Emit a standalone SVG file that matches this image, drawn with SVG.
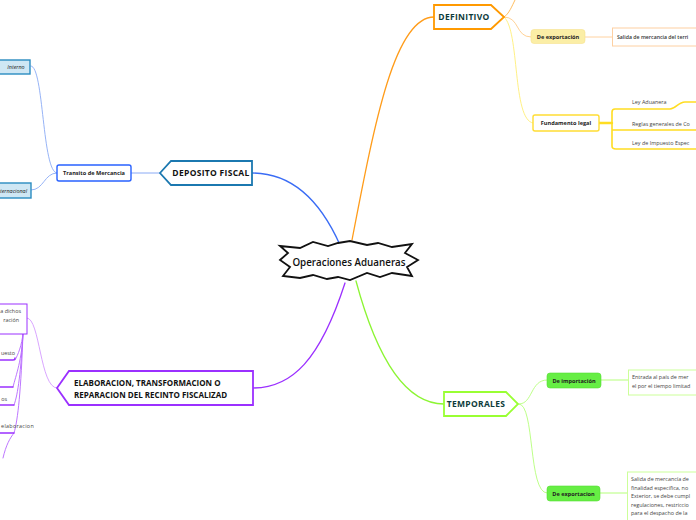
<svg xmlns="http://www.w3.org/2000/svg" width="696" height="520" viewBox="0 0 696 520">
<style>
text{font-family:"Open Sans","Noto Sans","DejaVu Sans",sans-serif;}
.main{font-size:8.5px;font-weight:700;fill:#0d3b3b;text-anchor:middle;letter-spacing:0.3px}
.sub{font-size:5.6px;font-weight:700;fill:#222;text-anchor:middle}
.small{font-size:5.4px;fill:#444}
.c{fill:none;stroke-linecap:round}
</style>
<rect width="696" height="520" fill="#ffffff"/>
<g id="connectors">
  <path class="c" d="M340,245 C320,200 292,173 252,173" stroke="#3a6cf5" stroke-width="1.3"/>
  <path class="c" d="M352,240 C375,120 395,17 434,17" stroke="#ff9c1a" stroke-width="1.3"/>
  <path class="c" d="M345,283 C320,360 292,388 253,388" stroke="#9b30ff" stroke-width="1.3"/>
  <path class="c" d="M356,281 C380,370 410,404 444,404" stroke="#8cf533" stroke-width="1.3"/>
  <path class="c" d="M160,173 L131,173" stroke="#8aaaf5" stroke-width="1"/>
  <path class="c" d="M57,173 C42,173 44,66 31,66" stroke="#8aaaf5" stroke-width="0.9"/>
  <path class="c" d="M57,173 C44,173 44,190 31,190" stroke="#8aaaf5" stroke-width="0.9"/>
  <path class="c" d="M504,17 C509,14 512,6 515,0" stroke="#ffb54d" stroke-width="0.9"/>
  <path class="c" d="M504,17 C520,17 515,37 531,37" stroke="#ffcc8a" stroke-width="0.9"/>
  <path class="c" d="M504,17 C520,30 512,120 533,123" stroke="#ffee77" stroke-width="0.9"/>
  <path class="c" d="M585,37 L612,37" stroke="#ffd2a0" stroke-width="1"/>
  <path class="c" d="M599,123 L612,123" stroke="#ffdd22" stroke-width="2.4"/>
  <path class="c" d="M670,109 L615,109 Q612,109 612,112 L612,146 Q612,149 616,149 L696,149 M612,130 L696,130 M670,109 C676,109 678,102 685,102 L696,102" stroke="#ffdd22" stroke-width="1.6"/>
  <path class="c" d="M519,404 C533,404 530,380 547,380" stroke="#b5ff7a" stroke-width="0.9"/>
  <path class="c" d="M519,404 C535,404 528,493 547,493" stroke="#b5ff7a" stroke-width="0.9"/>
  <path class="c" d="M601,380 L628,380" stroke="#b5ff7a" stroke-width="1"/>
  <path class="c" d="M600,493 L627,493" stroke="#b5ff7a" stroke-width="1"/>
  <path class="c" d="M57,388 C40,388 40,318 27,318" stroke="#d59bff" stroke-width="0.9"/>
  <path class="c" d="M23,333 C22,345 18,355 15,360 M23,333 C22,360 16,375 13,387 M23,333 C21,370 18,395 14,405 M23,333 C21,390 18,420 14,433 M14,433 C10,438 6,445 3,458" stroke="#b566ff" stroke-width="0.9"/>
  <path class="c" d="M0,360 L13,360 Q15,360 15,358 M0,387 L13,387 M0,405 L14,405 M0,433 L14,433" stroke="#9b30ff" stroke-width="1.4"/>
</g>
<g id="central">
  <polygon points="280,246 300,248 313,242 328,246 338,243 350,241 367,245 378,243 392,247 412,244 405,253 418,260 407,267 412,276 392,273 380,277 367,273 350,280 338,277 327,279 313,275 300,278 283,276 290,267 280,260 288,253" fill="#ffffff" stroke="#111" stroke-width="1.8" stroke-linejoin="miter"/>
  <text x="349" y="265.5" style="font-size:9.8px;font-weight:600;fill:#111;text-anchor:middle">Operaciones Aduaneras</text>
</g>
<g id="deposito">
  <polygon points="160,173 171,161 252,161 252,185 171,185" fill="#fff" stroke="#1b78b0" stroke-width="1.8"/>
  <text class="main" x="211" y="176" style="fill:#111">DEPOSITO FISCAL</text>
</g>
<g id="transito">
  <rect x="57" y="165" width="74" height="16" rx="2" fill="#fff" stroke="#2962ff" stroke-width="1.4"/>
  <text class="sub" x="94" y="175">Transito de Mercancia</text>
</g>
<g id="interno">
  <rect x="-3" y="60" width="33" height="14" fill="#cfe7f4" stroke="#2a8cc0" stroke-width="1.4"/>
  <text x="16" y="69" style="font-size:5.4px;font-style:italic;fill:#222;text-anchor:middle">Interno</text>
</g>
<g id="internacional">
  <rect x="-25" y="183" width="56" height="15" fill="#cfe7f4" stroke="#2a8cc0" stroke-width="1.4"/>
  <text x="27" y="192.5" style="font-size:5.4px;font-style:italic;fill:#222;text-anchor:end">Internacional</text>
</g>
<g id="definitivo">
  <polygon points="434,5 491,5 504,17 491,29 434,29" fill="#fff" stroke="#ff9900" stroke-width="1.8"/>
  <text class="main" x="464" y="20">DEFINITIVO</text>
</g>
<g id="def-exportacion">
  <rect x="531" y="29.5" width="54" height="14" rx="3" fill="#fbeea6" stroke="#f6e28e" stroke-width="0.6"/>
  <text class="sub" x="558" y="38.5">De exportación</text>
</g>
<g id="def-salida">
  <rect x="612.5" y="28" width="100" height="18" fill="#fff" stroke="#fdd0a2" stroke-width="1"/>
  <text x="617" y="39" style="font-size:5.2px;font-weight:600;fill:#333">Salida de mercancia del terri</text>
</g>
<g id="fundamento">
  <rect x="533" y="115" width="66" height="16" rx="2" fill="#fff" stroke="#ffdd33" stroke-width="1.4"/>
  <text class="sub" x="566" y="125">Fundamento legal</text>
</g>
<g id="ley-aduanera"><text class="small" x="632" y="104">Ley Aduanera</text></g>
<g id="reglas"><text class="small" x="632" y="125.5">Reglas generales de Co</text></g>
<g id="ley-impuesto"><text class="small" x="632" y="145">Ley de Impuesto Espec</text></g>
<g id="elaboracion">
  <polygon points="57,388 69,371 253,371 253,405 69,405" fill="#fff" stroke="#9b30ff" stroke-width="1.8"/>
  <text x="74" y="386" style="font-size:8px;font-weight:700;fill:#111">ELABORACION, TRANSFORMACION O</text>
  <text x="74" y="398" style="font-size:8px;font-weight:700;fill:#111">REPARACION DEL RECINTO FISCALIZAD</text>
</g>
<g id="elab-1">
  <rect x="-5" y="304" width="32" height="30" fill="#fff" stroke="#9b30ff" stroke-width="1"/>
  <text class="small" x="21" y="313" style="text-anchor:end">a dichos</text>
  <text class="small" x="19" y="321.5" style="text-anchor:end">ración</text>
</g>
<g id="elab-2"><text class="small" x="15" y="355" style="text-anchor:end">uesto</text></g>
<g id="elab-4"><text class="small" x="7" y="401" style="text-anchor:end">os</text></g>
<g id="elab-5"><text class="small" x="34" y="428" style="text-anchor:end;letter-spacing:0.3px">elaboracion</text></g>
<g id="temporales">
  <polygon points="444,392 506,392 518,404 506,416 444,416" fill="#fff" stroke="#99ff33" stroke-width="1.8"/>
  <text class="main" x="476" y="407">TEMPORALES</text>
</g>
<g id="tem-importacion">
  <rect x="547" y="373" width="54" height="15" rx="3" fill="#66ee44" stroke="#55dd33" stroke-width="0.6"/>
  <text class="sub" x="574" y="382.5">De importación</text>
</g>
<g id="tem-entrada">
  <rect x="628.5" y="370" width="80" height="25" fill="#fff" stroke="#ccff99" stroke-width="1"/>
  <text class="small" x="632" y="379">Entrada al país de mer</text>
  <text class="small" x="632" y="388">el por el tiempo limitad</text>
</g>
<g id="tem-exportacion">
  <rect x="547" y="486" width="53" height="15" rx="3" fill="#66ee44" stroke="#55dd33" stroke-width="0.6"/>
  <text class="sub" x="573.5" y="495.5">De exportacion</text>
</g>
<g id="tem-salida">
  <rect x="627.5" y="472" width="80" height="60" fill="#fff" stroke="#ccff99" stroke-width="1"/>
  <text class="small" x="631" y="481">Salida de mercancía de</text>
  <text class="small" x="631" y="489.5">finalidad especifica, no</text>
  <text class="small" x="631" y="498">Exterior, se debe cumpl</text>
  <text class="small" x="631" y="506.5">regulaciones, restriccio</text>
  <text class="small" x="631" y="515">para el despacho de la</text>
</g>
</svg>
